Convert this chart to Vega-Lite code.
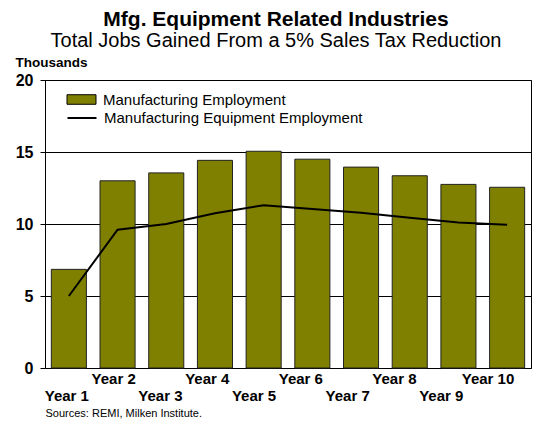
{
  "$schema": "https://vega.github.io/schema/vega-lite/v6.json",
  "width": 486,
  "height": 288,
  "autosize": {"type": "none"},
  "padding": {"left": 45, "top": 80, "right": 11, "bottom": 56},
  "background": "white",
  "config": {
    "font": "Liberation Sans",
    "view": {"stroke": "black", "strokeWidth": 1},
    "axis": {"labelColor": "black", "titleColor": "black", "labelFont": "Liberation Sans", "titleFont": "Liberation Sans"}
  },
  "title": {
    "text": "Mfg. Equipment Related Industries",
    "subtitle": "Total Jobs Gained From a 5% Sales Tax Reduction",
    "font": "Liberation Sans",
    "fontSize": 21,
    "fontWeight": "bold",
    "color": "black",
    "subtitleFont": "Liberation Sans",
    "subtitleFontSize": 20,
    "subtitleColor": "black",
    "subtitlePadding": 1,
    "anchor": "middle",
    "frame": "group",
    "offset": 4,
    "dx": -12
  },
  "data": {
    "values": [
      {"year": "Year 1", "mfg": 6.85, "equip": 5.0},
      {"year": "Year 2", "mfg": 13.0, "equip": 9.6},
      {"year": "Year 3", "mfg": 13.55, "equip": 10.0},
      {"year": "Year 4", "mfg": 14.42, "equip": 10.75},
      {"year": "Year 5", "mfg": 15.05, "equip": 11.3},
      {"year": "Year 6", "mfg": 14.5, "equip": 11.05},
      {"year": "Year 7", "mfg": 13.95, "equip": 10.78},
      {"year": "Year 8", "mfg": 13.35, "equip": 10.44},
      {"year": "Year 9", "mfg": 12.75, "equip": 10.1},
      {"year": "Year 10", "mfg": 12.55, "equip": 9.95}
    ]
  },
  "encoding": {
    "x": {
      "field": "year",
      "type": "ordinal",
      "sort": null,
      "scale": {"paddingInner": 0.28, "paddingOuter": 0.13},
      "axis": {
        "title": "Sources: REMI, Milken Institute.",
        "titleAnchor": "start",
        "titleAlign": "left",
        "titleFontSize": 11,
        "titleFontWeight": "normal",
        "titlePadding": 4,
        "labelAngle": 0,
        "labelFontSize": 15,
        "labelFontWeight": "bold",
        "labelOverlap": false,
        "labelFlush": false,
        "labelBaseline": "top",
        "labelPadding": {"condition": {"test": "indexof(['Year 1','Year 3','Year 5','Year 7','Year 9'], datum.value) >= 0", "value": 20}, "value": 3},
        "labelOffset": {"expr": "-2 - 1.9*indexof(['Year 1','Year 2','Year 3','Year 4','Year 5','Year 6','Year 7','Year 8','Year 9','Year 10'], datum.value)"},
        "ticks": false,
        "domain": false
      }
    }
  },
  "layer": [
    {
      "mark": {"type": "bar", "stroke": "#222222", "strokeWidth": 1},
      "encoding": {
        "y": {
          "field": "mfg",
          "type": "quantitative",
          "scale": {"domain": [0, 20], "nice": false},
          "axis": {
            "title": "Thousands",
            "titleAngle": 0,
            "titleAlign": "left",
            "titleBaseline": "alphabetic",
            "titleX": -30,
            "titleY": -14,
            "titleFontSize": 13.5,
            "titleFontWeight": "bold",
            "values": [0, 5, 10, 15, 20],
            "labelFontSize": 16,
            "labelFontWeight": "bold",
            "labelPadding": 7,
            "tickColor": "black",
            "tickSize": 5,
            "domain": false,
            "grid": true,
            "gridColor": "black",
            "gridOpacity": 1
          }
        },
        "fill": {
          "datum": "Manufacturing Employment",
          "scale": {"range": ["#808000"]},
          "legend": {
            "title": null,
            "orient": "none",
            "legendX": 27,
            "legendY": 10,
            "padding": 0,
            "labelFontSize": 15,
            "labelFont": "Liberation Sans",
            "labelColor": "black",
            "labelLimit": 0,
            "labelOffset": 12,
            "symbolType": "M-1.61,-0.53H1.61V0.53H-1.61Z",
            "symbolSize": 324,
            "symbolStrokeColor": "black",
            "symbolStrokeWidth": 1,
            "symbolOpacity": 1
          }
        }
      }
    },
    {
      "mark": {"type": "line", "strokeWidth": 2},
      "encoding": {
        "y": {"field": "equip", "type": "quantitative"},
        "stroke": {
          "datum": "Manufacturing Equipment Employment",
          "scale": {"range": ["black"]},
          "legend": {
            "title": null,
            "orient": "none",
            "legendX": 27,
            "legendY": 28,
            "padding": 0,
            "labelFontSize": 15,
            "labelFont": "Liberation Sans",
            "labelColor": "black",
            "labelLimit": 0,
            "labelOffset": 12,
            "symbolType": "M-1.61,0H1.61",
            "symbolSize": 324,
            "symbolStrokeWidth": 2,
            "symbolOpacity": 1
          }
        }
      }
    }
  ]
}
